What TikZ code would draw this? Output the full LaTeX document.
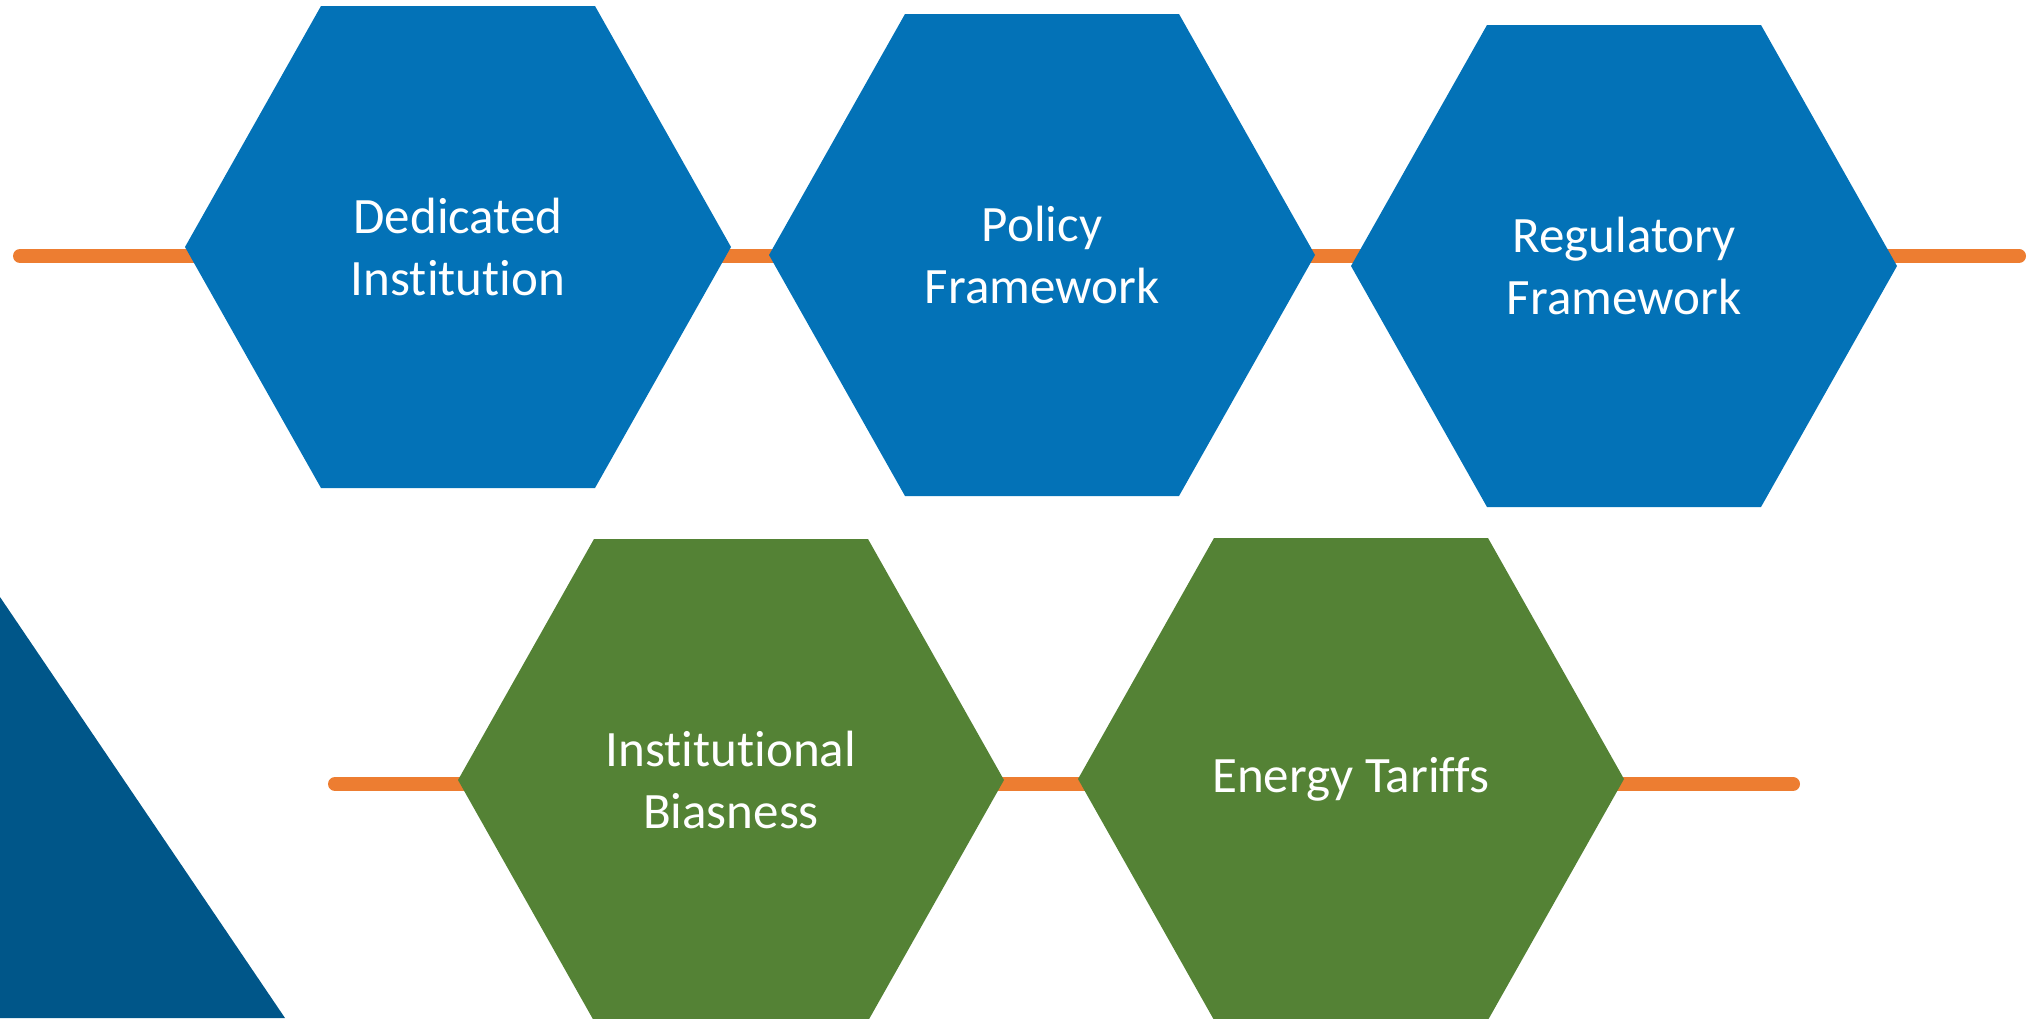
\documentclass[tikz,border=0pt]{standalone}
\usepackage{fontspec}
\setmainfont{Carlito}[Ligatures=NoCommon]
\definecolor{hexblue}{RGB}{3,114,183}
\definecolor{hexgreen}{RGB}{84,130,53}
\definecolor{lineorange}{RGB}{237,125,49}
\definecolor{triblue}{RGB}{0,86,137}
\tikzset{
  hexlabel/.style={text=white, align=center, inner sep=0pt, font=\fontsize{51}{62}\selectfont},
  timeline/.style={line width=14pt, lineorange, line cap=round}
}
% #1 name, #2 x, #3 y, #4 colour, #5 text
\newcommand{\hexnode}[5]{%
  \fill[#4] ({#2-273},{#3}) -- ({#2-137},{#3-241}) -- ({#2+137},{#3-241}) -- ({#2+273},{#3})
     -- ({#2+137},{#3+241}) -- ({#2-137},{#3+241}) -- cycle;
  \node[hexlabel] (#1) at (#2,#3) {#5};%
}
\begin{document}
\begin{tikzpicture}[x=1pt,y=-1pt]
\useasboundingbox (0,0) rectangle (2028,1018);
\clip (0,0) rectangle (2028,1018);
% timelines
\coordinate (topL) at (20,256);
\coordinate (topR) at (2019,256);
\coordinate (botL) at (335,784);
\coordinate (botR) at (1793,784);
\draw[timeline] (topL) -- (topR);
\draw[timeline] (botL) -- (botR);
% hexagons
\hexnode{h1}{458}{247}{hexblue}{Dedicated\\Institution}
\hexnode{h2}{1042}{255}{hexblue}{Policy\\Framework}
\hexnode{h3}{1624}{266}{hexblue}{Regulatory\\Framework}
\hexnode{h4}{731}{780}{hexgreen}{Institutional\\Biasness}
\hexnode{h5}{1351}{779}{hexgreen}{Energy Tariffs}
% corner triangle
\fill[triblue] (0,597) -- (285,1018) -- (0,1018) -- cycle;
\end{tikzpicture}
\end{document}
